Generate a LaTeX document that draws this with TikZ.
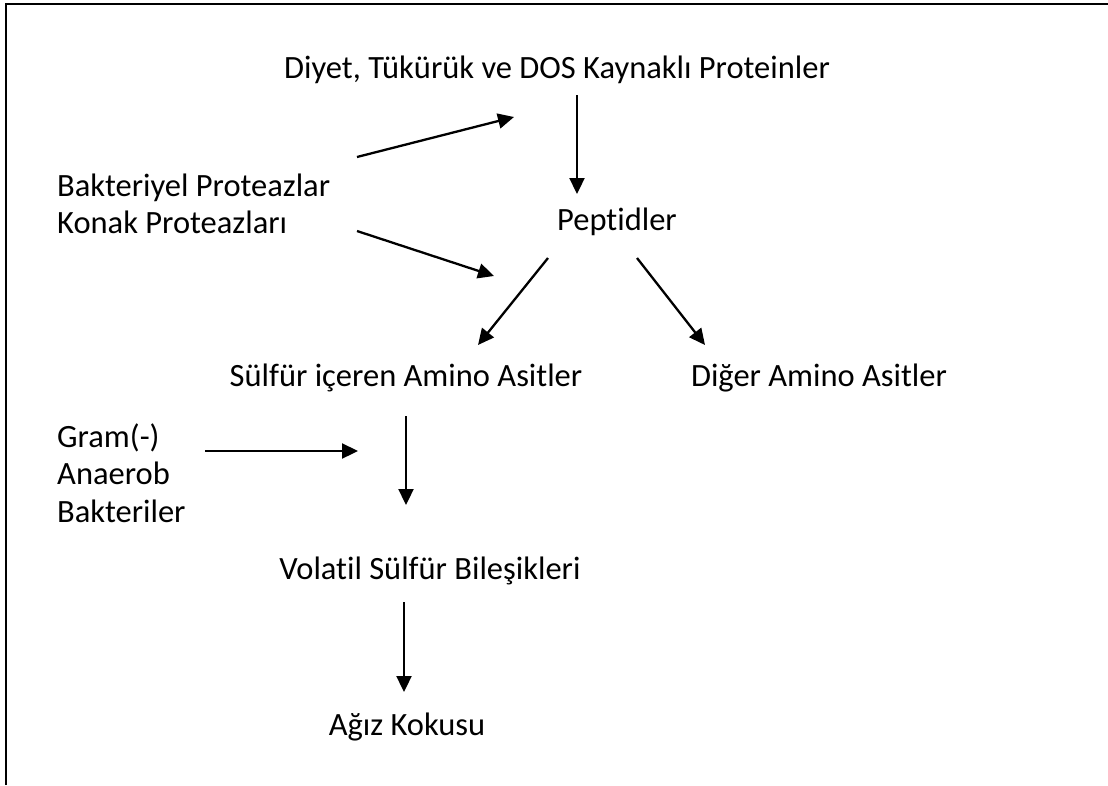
\documentclass[tikz,border=0pt]{standalone}
\usepackage{fontspec}
\setmainfont{Carlito}[Ligatures=NoCommon]
\usetikzlibrary{arrows.meta}
\tikzset{
  lbl/.style={inner sep=0pt, font=\fontsize{32.5}{37.5}\selectfont},
  flow/.style={line width=2.3pt, -{Triangle[length=16pt,width=15pt]}}
}
\begin{document}
\begin{tikzpicture}[x=1pt,y=-1pt]
\useasboundingbox (0,0) rectangle (1108,785);
% frame
\draw[line width=2.4pt] (6,785) -- (6,4) -- (1108,4);

% texts
\node[lbl] (diyet) at (557,70) {Diyet, Tükürük ve DOS Kaynaklı Proteinler};
\node[lbl] (pept) at (617,222) {Peptidler};
\node[lbl, anchor=west, align=left] (prot) at (57,204) {Bakteriyel Proteazlar\\Konak Proteazları};
\node[lbl] (sulfur) at (406,378) {Sülfür içeren Amino Asitler};
\node[lbl] (diger) at (819,378) {Diğer Amino Asitler};
\node[lbl, anchor=west, align=left] (gram) at (57,473) {Gram(-)\\Anaerob\\Bakteriler};
\node[lbl] (vsc) at (430,571) {Volatil Sülfür Bileşikleri};
\node[lbl] (agiz) at (407,727) {Ağız Kokusu};

% arrow ends
\coordinate (d1) at (577,95);   \coordinate (d2) at (577,194);
\coordinate (p1) at (357,157);  \coordinate (p2) at (514,117);
\coordinate (p3) at (357,231);  \coordinate (p4) at (494,276);
\coordinate (e1) at (548,258);  \coordinate (e2) at (478,345);
\coordinate (e3) at (637,258);  \coordinate (e4) at (705,345);
\coordinate (g1) at (205,451);  \coordinate (g2) at (358,451);
\coordinate (s1) at (406,416);  \coordinate (s2) at (406,505);
\coordinate (v1) at (404,602);  \coordinate (v2) at (404,692);

\draw[flow] (d1) -- (d2);
\draw[flow] (p1) -- (p2);
\draw[flow] (p3) -- (p4);
\draw[flow] (e1) -- (e2);
\draw[flow] (e3) -- (e4);
\draw[flow] (g1) -- (g2);
\draw[flow] (s1) -- (s2);
\draw[flow] (v1) -- (v2);
\end{tikzpicture}
\end{document}
